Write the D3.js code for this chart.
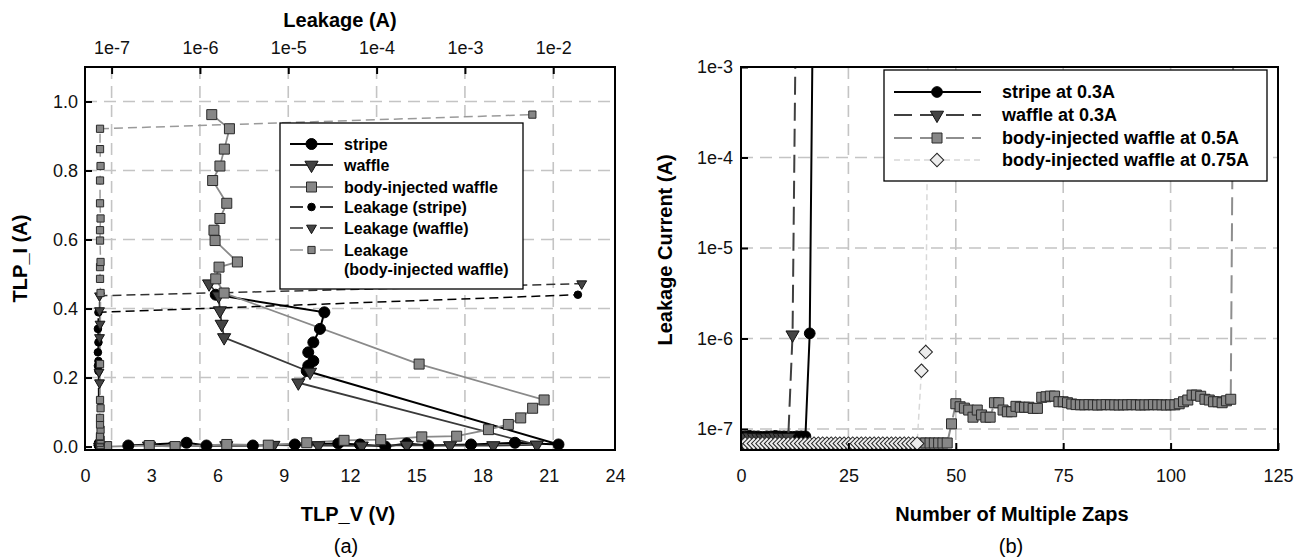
<!DOCTYPE html>
<html>
<head>
<meta charset="utf-8">
<script src="https://cdnjs.cloudflare.com/ajax/libs/d3/7.8.5/d3.min.js"></script>
<style>
  body { margin: 0; background: #fff; }
  svg { display: block; }
  text { font-family: "Liberation Sans", Arial, sans-serif; }
</style>
</head>
<body>
<svg id="fig" width="1302" height="560"></svg>
<script>
// ---------- (a) TLP curves + leakage ----------
var stripeV = [1.96, 4.6, 5.5, 7.6, 9.5, 11.47, 12.45, 13.6, 14.57, 15.55, 17.48, 19.47, 21.44,
               10.04, 10.11, 10.34, 10.11, 10.34, 10.64, 10.84, 5.92];
var stripeI = [0.003, 0.011, 0.003, 0.003, 0.006, 0.009, 0.006, 0.000, 0.009, 0.003, 0.006, 0.011, 0.006,
               0.219, 0.234, 0.248, 0.273, 0.302, 0.341, 0.389, 0.440];
var stripeLeak = [7.0e-8, 7.1e-8, 7.0e-8, 7.2e-8, 7.1e-8, 7.0e-8, 7.1e-8, 7.2e-8, 7.0e-8, 7.1e-8, 7.0e-8,
                  7.1e-8, 7.2e-8, 7.1e-8, 7.0e-8, 7.1e-8, 7.0e-8, 7.1e-8, 7.0e-8, 7.1e-8, 1.9e-2];

var waffleV = [2.9, 4.1, 6.4, 8.53, 10.57, 12.53, 14.57, 16.53, 18.49, 20.46,
               9.66, 10.19, 6.30, 6.19, 6.11, 6.05, 5.62];
var waffleI = [0.002, 0.001, 0.003, 0.004, 0.003, 0.002, 0.004, 0.003, 0.003, 0.005,
               0.185, 0.216, 0.316, 0.355, 0.394, 0.437, 0.472];
var waffleLeak = [7.3e-8, 7.2e-8, 7.3e-8, 7.4e-8, 7.3e-8, 7.2e-8, 7.3e-8, 7.3e-8, 7.4e-8, 7.3e-8,
                  7.3e-8, 7.2e-8, 7.3e-8, 7.4e-8, 7.3e-8, 7.3e-8, 2.1e-2];

var bodyV = [0.98, 2.91, 4.08, 6.42, 8.30, 10.04, 11.73, 13.39, 15.25, 16.83, 18.27, 19.17, 19.73, 20.27, 20.79,
             15.13, 6.30, 5.92, 6.07, 6.90, 5.89, 5.84, 6.11, 6.42, 5.78, 6.11, 6.31, 6.54, 5.74];
var bodyI = [0.000, 0.003, 0.000, 0.006, 0.004, 0.011, 0.018, 0.020, 0.028, 0.030, 0.049, 0.064, 0.083, 0.111, 0.135,
             0.239, 0.445, 0.486, 0.520, 0.535, 0.597, 0.627, 0.661, 0.705, 0.771, 0.813, 0.862, 0.921, 0.962];
var bodyLeak = [7.4e-8, 7.5e-8, 7.4e-8, 7.4e-8, 7.5e-8, 7.4e-8, 7.4e-8, 7.5e-8, 7.4e-8, 7.4e-8, 7.5e-8, 7.4e-8,
                7.4e-8, 7.5e-8, 7.4e-8, 7.4e-8, 7.5e-8, 7.4e-8, 7.4e-8, 7.5e-8, 7.4e-8, 7.4e-8, 7.5e-8, 7.4e-8,
                7.4e-8, 7.5e-8, 7.4e-8, 7.4e-8, 5.8e-3];

var voltTicks = [0, 3, 6, 9, 12, 15, 18, 21, 24];
var currTicks = [0, 0.2, 0.4, 0.6, 0.8, 1.0];
var leakTicks = [1e-7, 1e-6, 1e-5, 1e-4, 1e-3, 1e-2];

// ---------- (b) leakage vs number of zaps ----------
var stripeZap = [8.3e-8, 8.3e-8, 8.4e-8, 8.3e-8, 8.3e-8, 8.2e-8, 8.3e-8, 8.3e-8, 8.4e-8, 8.3e-8, 8.3e-8, 8.3e-8,
                 8.2e-8, 8.3e-8, 8.3e-8, 8.3e-8, 1.14e-6, 1e-1];            // zap 0..17
var waffleZap = [8.1e-8, 8.1e-8, 8.2e-8, 8.1e-8, 8.1e-8, 8.0e-8, 8.1e-8, 8.1e-8, 8.2e-8, 8.1e-8, 8.1e-8, 8.1e-8,
                 1.1e-6, 5e-2];                                             // zap 0..13
var bodyZapStart = 42;
var bodyZap = [7.0e-8, 7.0e-8, 7.0e-8, 7.0e-8, 7.0e-8, 7.0e-8, 7.0e-8, 1.14e-7, 1.9e-7, 1.76e-7,
               1.7e-7, 1.62e-7, 1.35e-7, 1.62e-7, 1.43e-7, 1.35e-7, 1.35e-7, 1.95e-7, 1.95e-7, 1.62e-7,
               1.55e-7, 1.55e-7, 1.78e-7, 1.74e-7, 1.74e-7, 1.74e-7, 1.69e-7, 1.69e-7, 2.24e-7, 2.27e-7,
               2.31e-7, 2.31e-7, 2.0e-7, 2.0e-7, 1.95e-7, 1.89e-7, 1.86e-7, 1.85e-7, 1.85e-7, 1.86e-7,
               1.85e-7, 1.84e-7, 1.85e-7, 1.86e-7, 1.85e-7, 1.85e-7, 1.84e-7, 1.85e-7, 1.85e-7, 1.86e-7,
               1.85e-7, 1.84e-7, 1.85e-7, 1.85e-7, 1.86e-7, 1.85e-7, 1.85e-7, 1.84e-7, 1.85e-7, 1.85e-7,
               1.9e-7, 2.0e-7, 2.09e-7, 2.37e-7, 2.37e-7, 2.3e-7, 2.13e-7, 2.09e-7, 2.0e-7, 2.0e-7,
               1.95e-7, 2.05e-7, 2.13e-7, 1.0];                             // zap 42..115
var body75Zap = [6.9e-8, 6.9e-8, 6.9e-8, 6.9e-8, 6.9e-8, 6.9e-8, 6.9e-8, 6.9e-8, 6.9e-8, 6.9e-8,
                 6.9e-8, 6.9e-8, 6.9e-8, 6.9e-8, 6.9e-8, 6.9e-8, 6.9e-8, 6.9e-8, 6.9e-8, 6.9e-8,
                 6.9e-8, 6.9e-8, 6.9e-8, 6.9e-8, 6.9e-8, 6.9e-8, 6.9e-8, 6.9e-8, 6.9e-8, 6.9e-8,
                 6.9e-8, 6.9e-8, 6.9e-8, 6.9e-8, 6.9e-8, 6.9e-8, 6.9e-8, 6.9e-8, 6.9e-8, 6.9e-8,
                 6.9e-8, 6.9e-8, 4.4e-7, 7.1e-7, 1.0];                     // zap 0..44
var zapTicks = [0, 25, 50, 75, 100, 125];
var zapLeakTicks = [1e-7, 1e-6, 1e-5, 1e-4, 1e-3];

var svg = d3.select("#fig");
var gridColor = "#c4c4c4";
var tickFont = 18, titleFont = 20;

function expFmt(d) { return "1e" + Math.round(Math.log10(d)); }

function marker(type, size) {
    if (type === "circle") return d3.symbol().type(d3.symbolCircle).size(size)();
    if (type === "tri") return d3.symbol().type(d3.symbolTriangle).size(size)();
    return d3.symbol().type(d3.symbolSquare).size(size)();   // square, or diamond = rotated square
}
function markerRot(type) {
    if (type === "tri") return " rotate(180)";
    if (type === "diamond") return " rotate(45)";
    return "";
}

function drawMarkers(g, pts, sx, sy, st) {
    g.selectAll(null)
        .data(pts)
        .enter().append("path")
        .attr("d", marker(st.shape, st.size))
        .attr("transform", function (d) { return "translate(" + sx(d) + "," + sy(d) + ")" + markerRot(st.shape); })
        .attr("fill", st.fill)
        .attr("stroke", st.stroke)
        .attr("stroke-width", 1);
}

function styleAxis(ax) {
    ax.select(".domain").remove();
    ax.selectAll(".tick line").attr("stroke", "#000").attr("stroke-width", 2);
    ax.selectAll(".tick text").attr("font-size", tickFont).attr("fill", "#111")
        .attr("font-family", "'Liberation Sans', Arial, sans-serif");
}

// =====================================================================
// (a)
// =====================================================================
var A = {left: 85, right: 615, top: 67, bottom: 450};
var xV = d3.scaleLinear().domain([0, 24]).range([A.left, A.right]);
var xLeak = d3.scaleLog().domain([5e-8, 5e-2]).range([A.left, A.right]);
var yI = d3.scaleLinear().domain([-0.01, 1.1]).range([A.bottom, A.top]);

var ga = svg.append("g");

// grid
ga.append("g").selectAll("line").data(currTicks.slice(1)).enter().append("line")
    .attr("x1", A.left).attr("x2", A.right)
    .attr("y1", function (d) { return yI(d); }).attr("y2", function (d) { return yI(d); })
    .attr("stroke", gridColor).attr("stroke-width", 1.6).attr("stroke-dasharray", "12,7");
ga.append("g").selectAll("line").data(leakTicks).enter().append("line")
    .attr("y1", A.top).attr("y2", A.bottom)
    .attr("x1", function (d) { return xLeak(d); }).attr("x2", function (d) { return xLeak(d); })
    .attr("stroke", gridColor).attr("stroke-width", 1.6).attr("stroke-dasharray", "12,7");

svg.append("clipPath").attr("id", "clipA").append("rect")
    .attr("x", A.left).attr("y", A.top).attr("width", A.right - A.left).attr("height", A.bottom - A.top);

var pa = ga.append("g").attr("clip-path", "url(#clipA)");

function zipTLP(V, I) { return V.map(function (v, k) { return {v: v, i: I[k]}; }); }
function zipLeak(Lk, I) { return Lk.map(function (l, k) { return {l: l, i: I[k]}; }); }

var tlpLine = d3.line().x(function (d) { return xV(d.v); }).y(function (d) { return yI(d.i); });
var leakLine = d3.line().x(function (d) { return xLeak(d.l); }).y(function (d) { return yI(d.i); });

var seriesA = [
    {name: "stripe", pts: zipTLP(stripeV, stripeI), line: tlpLine, color: "#000", width: 2, dash: null,
     m: {shape: "circle", size: 95, fill: "#000", stroke: "#000"}},
    {name: "waffle", pts: zipTLP(waffleV, waffleI), line: tlpLine, color: "#3a3a3a", width: 1.8, dash: null,
     m: {shape: "tri", size: 75, fill: "#444", stroke: "#111"}},
    {name: "body-injected waffle", pts: zipTLP(bodyV, bodyI), line: tlpLine, color: "#8a8a8a", width: 1.8, dash: null,
     m: {shape: "square", size: 100, fill: "#878787", stroke: "#2a2a2a"}},
    {name: "Leakage (stripe)", pts: zipLeak(stripeLeak, stripeI), line: leakLine, color: "#000", width: 1.5, dash: "9,5",
     m: {shape: "circle", size: 45, fill: "#000", stroke: "#000"}},
    {name: "Leakage (waffle)", pts: zipLeak(waffleLeak, waffleI), line: leakLine, color: "#333", width: 1.5, dash: "9,5",
     m: {shape: "tri", size: 42, fill: "#444", stroke: "#111"}},
    {name: "Leakage (body-injected waffle)", pts: zipLeak(bodyLeak, bodyI), line: leakLine, color: "#9a9a9a", width: 1.5, dash: "9,5",
     m: {shape: "square", size: 52, fill: "#878787", stroke: "#2a2a2a"}}
];

seriesA.forEach(function (s) {
    pa.append("path").datum(s.pts)
        .attr("d", s.line)
        .attr("fill", "none")
        .attr("stroke", s.color)
        .attr("stroke-width", s.width)
        .attr("stroke-dasharray", s.dash);
});
seriesA.forEach(function (s) {
    var isLeak = s.line === leakLine;
    drawMarkers(pa, s.pts,
        function (d) { return isLeak ? xLeak(d.l) : xV(d.v); },
        function (d) { return yI(d.i); }, s.m);
});

// frame + axes
ga.append("rect").attr("x", A.left).attr("y", A.top)
    .attr("width", A.right - A.left).attr("height", A.bottom - A.top)
    .attr("fill", "none").attr("stroke", "#000").attr("stroke-width", 2);

var axL = ga.append("g").attr("transform", "translate(" + A.left + ",0)")
    .call(d3.axisLeft(yI).tickValues(currTicks).tickSize(-7).tickPadding(7).tickFormat(d3.format(".1f")));
var axT = ga.append("g").attr("transform", "translate(0," + A.top + ")")
    .call(d3.axisTop(xLeak).tickValues(leakTicks).tickSize(-7).tickPadding(13).tickFormat(expFmt));
var axB = ga.append("g").attr("transform", "translate(0," + A.bottom + ")")
    .call(d3.axisBottom(xV).tickValues(voltTicks).tickSize(0).tickPadding(19));
[axL, axT, axB].forEach(styleAxis);

ga.append("text").attr("x", 340).attr("y", 27).attr("text-anchor", "middle")
    .attr("font-size", titleFont).attr("font-weight", "bold").text("Leakage (A)");
ga.append("text").attr("x", 348).attr("y", 521).attr("text-anchor", "middle")
    .attr("font-size", titleFont).attr("font-weight", "bold").text("TLP_V (V)");
ga.append("text").attr("transform", "translate(27," + (A.top + A.bottom) / 2 + ") rotate(-90)")
    .attr("text-anchor", "middle")
    .attr("font-size", titleFont).attr("font-weight", "bold").text("TLP_I (A)");
ga.append("text").attr("x", 346).attr("y", 553).attr("text-anchor", "middle")
    .attr("font-family", "'Liberation Serif', 'Times New Roman', serif")
    .attr("font-size", 20).text("(a)");

// legend (a)
var legA = ga.append("g");
legA.append("rect").attr("x", 280).attr("y", 123).attr("width", 243).attr("height", 166)
    .attr("fill", "#fff").attr("stroke", "#000").attr("stroke-width", 1.3);
var legRowsA = [144, 165, 187, 207, 228, 250];
seriesA.forEach(function (s, k) {
    var y = legRowsA[k];
    legA.append("line").attr("x1", 290).attr("x2", 333).attr("y1", y).attr("y2", y)
        .attr("stroke", s.color).attr("stroke-width", s.width).attr("stroke-dasharray", s.dash ? "13,17,13" : null);
    drawMarkers(legA, [0], function () { return 311.5; }, function () { return y; }, s.m);
    var t = legA.append("text").attr("x", 344).attr("y", y + 6)
        .attr("font-size", 16).attr("font-weight", "bold");
    if (k === 5) {
        t.append("tspan").attr("x", 344).text("Leakage");
        t.append("tspan").attr("x", 344).attr("dy", 19).text("(body-injected waffle)");
    } else {
        t.text(s.name);
    }
});

// =====================================================================
// (b)
// =====================================================================
var B = {left: 741, right: 1278, top: 67, bottom: 450};
var xN = d3.scaleLinear().domain([0, 125]).range([B.left, B.right]);
var yL = d3.scaleLog().domain([5.86e-8, 1e-3]).range([B.bottom, B.top]);

var gb = svg.append("g");

gb.append("g").selectAll("line").data(zapLeakTicks.slice(0, 4)).enter().append("line")
    .attr("x1", B.left).attr("x2", B.right)
    .attr("y1", function (d) { return yL(d); }).attr("y2", function (d) { return yL(d); })
    .attr("stroke", gridColor).attr("stroke-width", 1.6).attr("stroke-dasharray", "12,7");
gb.append("g").selectAll("line").data(zapTicks.slice(1, 5)).enter().append("line")
    .attr("y1", B.top).attr("y2", B.bottom)
    .attr("x1", function (d) { return xN(d); }).attr("x2", function (d) { return xN(d); })
    .attr("stroke", gridColor).attr("stroke-width", 1.6).attr("stroke-dasharray", "12,7");

svg.append("clipPath").attr("id", "clipB").append("rect")
    .attr("x", B.left).attr("y", B.top).attr("width", B.right - B.left).attr("height", B.bottom - B.top);
var pb = gb.append("g").attr("clip-path", "url(#clipB)");

function zipZap(vals, start) { return vals.map(function (v, k) { return {n: start + k, l: v}; }); }
var zapLine = d3.line().x(function (d) { return xN(d.n); }).y(function (d) { return yL(d.l); });

var seriesB = [
    {name: "stripe at 0.3A", pts: zipZap(stripeZap, 0), color: "#000", width: 2, dash: null,
     m: {shape: "circle", size: 90, fill: "#000", stroke: "#000"}},
    {name: "waffle at 0.3A", pts: zipZap(waffleZap, 0), color: "#404040", width: 2, dash: "18,8",
     m: {shape: "tri", size: 75, fill: "#444", stroke: "#111"}},
    {name: "body-injected waffle at 0.5A", pts: zipZap(bodyZap, bodyZapStart), color: "#8e8e8e", width: 2, dash: "18,8",
     m: {shape: "square", size: 100, fill: "#878787", stroke: "#2a2a2a"}},
    {name: "body-injected waffle at 0.75A", pts: zipZap(body75Zap, 0), color: "#d8d8d8", width: 1.5, dash: "6,4",
     m: {shape: "diamond", size: 90, fill: "#ececec", stroke: "#222"}}
];

seriesB.forEach(function (s) {
    pb.append("path").datum(s.pts)
        .attr("d", zapLine)
        .attr("fill", "none")
        .attr("stroke", s.color)
        .attr("stroke-width", s.width)
        .attr("stroke-dasharray", s.dash);
    drawMarkers(pb, s.pts, function (d) { return xN(d.n); }, function (d) { return yL(d.l); }, s.m);
});

gb.append("rect").attr("x", B.left).attr("y", B.top)
    .attr("width", B.right - B.left).attr("height", B.bottom - B.top)
    .attr("fill", "none").attr("stroke", "#000").attr("stroke-width", 2);

var axBL = gb.append("g").attr("transform", "translate(" + B.left + ",0)")
    .call(d3.axisLeft(yL).tickValues(zapLeakTicks).tickSize(-7).tickPadding(8).tickFormat(expFmt));
var axBB = gb.append("g").attr("transform", "translate(0," + B.bottom + ")")
    .call(d3.axisBottom(xN).tickValues(zapTicks).tickSize(-7).tickPadding(19));
[axBL, axBB].forEach(styleAxis);

gb.append("text").attr("x", 1012).attr("y", 521).attr("text-anchor", "middle")
    .attr("font-size", titleFont).attr("font-weight", "bold").text("Number of Multiple Zaps");
gb.append("text").attr("transform", "translate(672,250) rotate(-90)")
    .attr("text-anchor", "middle")
    .attr("font-size", titleFont).attr("font-weight", "bold").text("Leakage Current (A)");
gb.append("text").attr("x", 1011).attr("y", 553).attr("text-anchor", "middle")
    .attr("font-family", "'Liberation Serif', 'Times New Roman', serif")
    .attr("font-size", 20).text("(b)");

// legend (b)
var legB = gb.append("g");
legB.append("rect").attr("x", 884).attr("y", 70).attr("width", 383).attr("height", 111)
    .attr("fill", "#fff").attr("stroke", "#000").attr("stroke-width", 1.3);
var legRowsB = [92, 115, 138, 160];
seriesB.forEach(function (s, k) {
    var y = legRowsB[k];
    legB.append("line").attr("x1", 894).attr("x2", 981).attr("y1", y).attr("y2", y)
        .attr("stroke", s.color).attr("stroke-width", s.width).attr("stroke-dasharray", s.dash);
    drawMarkers(legB, [0], function () { return 937; }, function () { return y; }, s.m);
    legB.append("text").attr("x", 1002).attr("y", y + 6)
        .attr("font-size", 18).attr("font-weight", "bold").text(s.name);
});
</script>
</body>
</html>
